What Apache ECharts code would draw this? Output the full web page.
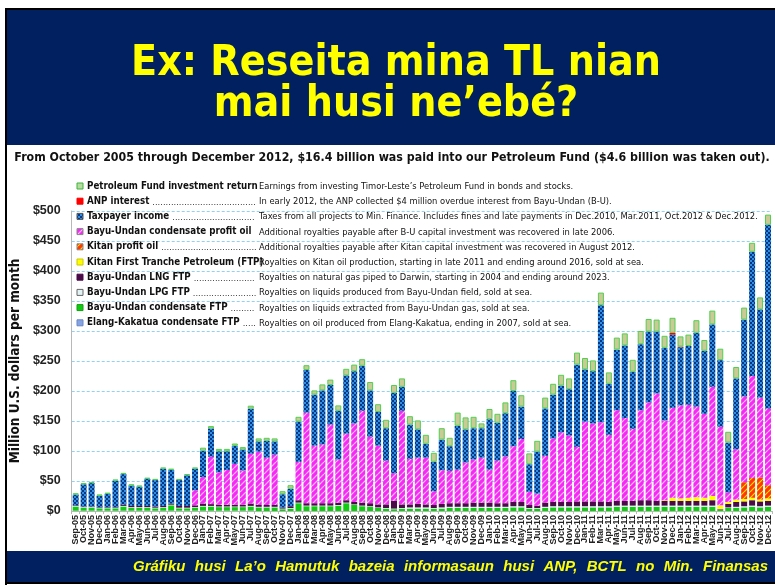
<!DOCTYPE html>
<html>
<head>
<meta charset="utf-8">
<script src="https://cdn.jsdelivr.net/npm/echarts@6/dist/echarts.min.js"></script>
<style>
  html, body { margin: 0; padding: 0; background: #fff; }
  #main { width: 775px; height: 588px; }
</style>
</head>
<body>
<div id="main"></div>
<script>
// months on the x axis
var months = [
  'Sep-05','Oct-05','Nov-05','Dec-05',
  'Jan-06','Feb-06','Mar-06','Apr-06','May-06','Jun-06','Jul-06','Aug-06','Sep-06','Oct-06','Nov-06','Dec-06',
  'Jan-07','Feb-07','Mar-07','Apr-07','May-07','Jun-07','Jul-07','Aug-07','Sep-07','Oct-07','Nov-07','Dec-07',
  'Jan-08','Feb-08','Mar-08','Apr-08','May-08','Jun-08','Jul-08','Aug-08','Sep-08','Oct-08','Nov-08','Dec-08',
  'Jan-09','Feb-09','Mar-09','Apr-09','May-09','Jun-09','Jul-09','Aug-09','Sep-09','Oct-09','Nov-09','Dec-09',
  'Jan-10','Feb-10','Mar-10','Apr-10','May-10','Jun-10','Jul-10','Aug-10','Sep-10','Oct-10','Nov-10','Dec-10',
  'Jan-11','Feb-11','Mar-11','Apr-11','May-11','Jun-11','Jul-11','Aug-11','Sep-11','Oct-11','Nov-11','Dec-11',
  'Jan-12','Feb-12','Mar-12','Apr-12','May-12','Jun-12','Jul-12','Aug-12','Sep-12','Oct-12','Nov-12','Dec-12'
];

// million US$ per month, stacked bottom -> top
var elangFtp = [
  0.5,0.5,0.5,0.5,
  0.5,0.5,0.5,0.5,0.5,0.5,0.5,0.5,0.5,0.5,0.5,0.5,
  0.5,0.5,0.5,0.5,0.5,0.5,0.5,0,0,0,0,0,
  0,0,0,0,0,0,0,0,0,0,0,0,
  0,0,0,0,0,0,0,0,0,0,0,0,
  0,0,0,0,0,0,0,0,0,0,0,0,
  0,0,0,0,0,0,0,0,0,0,0,0,
  0,0,0,0,0,0,0,0,0,0,0,0
];
var condFtp = [
  7,5,5,4,
  4,4,7,5,5,5,4,5,9,4,4,5,
  7,7,6,6,6,6,7,6,6,6,3,4,
  13,8,8,8,8,9,13,10,8,7,5,4,
  3,4,4,4,4,4,4,5,5,5,5,5,
  5,5,5,6,6,4,4,5,6,6,6,6,
  6,6,6,6,7,7,7,7,7,7,7,7,
  7,7,7,7,7,2,5,5,6,7,6,7
];
var lpgFtp = [
  1,1,1,1,
  1,1,1,1,1,1,1,1,1,1,1,1,
  1,1,1,1,1,1,1,1,1,1,1,1,
  1,1,1,1,1,1,1,1,1,1,1,1,
  1,1,2,2,2,1,2,2,2,2,2,2,
  2,2,2,2,2,1,1,2,2,2,2,2,
  2,2,2,2,2,2,2,2,2,2,2,2,
  2,2,2,2,2,0.5,1,2,2,2,2,2
];
var lngFtp = [
  1,1,1,1,
  1,1,2,2,2,2,2,2,2,3,3,3,
  4,3,3,3,3,3,4,3,3,3,2,3,
  4,4,4,4,4,4,4,4,5,5,5,6,
  13,6,5,6,5,5,6,6,6,6,7,7,
  7,6,6,7,7,5,4,7,7,7,7,8,
  8,8,8,7,8,8,8,9,9,8,8,8,
  8,8,8,8,9,1,6,8,8,9,8,8
];
var kitanFtp = [
  0,0,0,0,
  0,0,0,0,0,0,0,0,0,0,0,0,
  0,0,0,0,0,0,0,0,0,0,0,0,
  0,0,0,0,0,0,0,0,0,0,0,0,
  0,0,0,0,0,0,0,0,0,0,0,0,
  0,0,0,0,0,0,0,0,0,0,0,0,
  0,0,0,0,0,0,0,0,0,0,1,5,
  4,5,6,5,7,6,3,4,4,4,3,4
];
var kitanProfit = [
  0,0,0,0,
  0,0,0,0,0,0,0,0,0,0,0,0,
  0,0,0,0,0,0,0,0,0,0,0,0,
  0,0,0,0,0,0,0,0,0,0,0,0,
  0,0,0,0,0,0,0,0,0,0,0,0,
  0,0,0,0,0,0,0,0,0,0,0,0,
  0,0,0,0,0,0,0,0,0,0,0,0,
  0,0,0,0,0,0,0,0,28,33,37,22
];
var buProfit = [
  0,0,0,0,
  0,0,0,0,0,0,0,0,0,0,0,25,
  44,79,54,58,68,57,83,89,79,84,0,0,
  64,151,96,98,131,72,111,131,153,111,98,73,
  46,156,76,77,78,23,56,54,56,68,72,75,
  55,71,78,93,105,22,20,78,106,116,111,91,
  133,130,132,112,151,138,120,150,163,179,133,150,
  155,155,151,140,182,131,16,84,143,170,133,128
];
var taxpayer = [
  18,37,39,19,
  22,44,51,34,32,45,44,62,56,43,51,36,
  44,47,35,31,30,35,75,17,28,22,22,29,
  67,71,85,90,66,81,97,87,75,77,56,54,
  134,40,57,47,23,49,51,41,73,55,52,49,
  84,63,72,92,54,46,70,79,73,78,77,137,
  87,87,195,85,101,121,95,110,118,103,121,122,
  97,98,123,105,104,111,83,118,128,207,147,306
];
var anpInterest = [
  0,0,0,0,
  0,0,0,0,0,0,0,0,0,0,0,0,
  0,0,0,0,0,0,0,0,0,0,0,0,
  0,0,0,0,0,0,0,0,0,0,0,0,
  0,0,0,0,0,0,0,0,0,0,0,0,
  0,0,0,0,0,0,0,0,0,0,0,0,
  0,0,0,0,0,0,0,0,0,0,0,3,
  1,0,0,0,0,0,0,0,0,0,0,0
];
var invReturn = [
  2,2,2,2,
  2,2,2,2,2,2,2,2,2,2,2,2,
  5,4,4,4,4,4,5,5,5,5,5,6,
  8,8,7,10,9,9,11,11,11,14,13,14,
  13,14,14,15,15,15,19,14,22,20,19,8,
  17,15,18,18,19,18,18,18,18,18,18,20,
  19,18,21,19,20,20,20,22,21,20,20,25,
  17,19,21,18,23,19,18,19,20,15,20,17
];

// legend rows: name, description (top -> bottom)
var legendNames = [
  'Petroleum Fund investment return', 'ANP interest', 'Taxpayer income',
  'Bayu-Undan condensate profit oil', 'Kitan profit oil', 'Kitan First Tranche Petroleum (FTP)',
  'Bayu-Undan LNG FTP', 'Bayu-Undan LPG FTP', 'Bayu-Undan condensate FTP', 'Elang-Kakatua condensate FTP'
];
var legendDescs = [
  'Earnings from investing Timor-Leste\u2019s Petroleum Fund in bonds and stocks.',
  'In early 2012, the ANP collected $4 million overdue interest from Bayu-Undan (B-U).',
  'Taxes from all projects to Min. Finance. Includes fines and late payments in Dec.2010, Mar.2011, Oct.2012 & Dec.2012.',
  'Additional royalties payable after B-U capital investment was recovered in late 2006.',
  'Additional royalties payable after Kitan capital investment was recovered in August 2012.',
  'Royalties on Kitan oil production, starting in late 2011 and ending around 2016, sold at sea.',
  'Royalties on natural gas piped to Darwin, starting in 2004 and ending around 2023.',
  'Royalties on liquids produced from Bayu-Undan field, sold at sea.',
  'Royalties on liquids extracted from Bayu-Undan gas, sold at sea.',
  'Royalties on oil produced from Elang-Kakatua, ending in 2007, sold at sea.'
];

var NARROW = '"Liberation Sans Narrow", "DejaVu Sans Condensed", sans-serif';
var measure = document.createElement('canvas').getContext('2d');
function fit(text, font, width) {
  measure.font = font.replace('{s}', '100');
  return 100 * width / measure.measureText(text).width;
}
function textW(text, font) {
  measure.font = font;
  return measure.measureText(text).width;
}

function pattern(bg, fg, kind) {
  var c = document.createElement('canvas');
  var size = kind === 'check' ? 4 : 6;
  c.width = size; c.height = size;
  var g = c.getContext('2d');
  g.fillStyle = bg;
  g.fillRect(0, 0, size, size);
  if (kind === 'check') {
    g.fillStyle = fg;
    g.fillRect(0, 0, 2, 2);
    g.fillRect(2, 2, 2, 2);
  } else {
    g.strokeStyle = fg;
    g.lineWidth = 1.2;
    g.beginPath();
    [-6, 0, 6].forEach(function (o) { g.moveTo(o, 6); g.lineTo(o + 6, 0); });
    g.stroke();
  }
  return { image: c, repeat: 'repeat' };
}

var taxFill = pattern('#2a90e8', '#0c3582', 'check');
var buFill = pattern('#f52af5', '#fbc0fb', 'stripe');
var kitanFill = pattern('#ff3a00', '#ffe000', 'stripe');

var seriesDefs = [
  { name: 'Elang-Kakatua condensate FTP', data: elangFtp, color: '#86a4e4' },
  { name: 'Bayu-Undan condensate FTP', data: condFtp, color: '#10cc10' },
  { name: 'Bayu-Undan LPG FTP', data: lpgFtp, color: '#d8eef2' },
  { name: 'Bayu-Undan LNG FTP', data: lngFtp, color: '#4b0b49' },
  { name: 'Kitan First Tranche Petroleum (FTP)', data: kitanFtp, color: '#ffff00' },
  { name: 'Kitan profit oil', data: kitanProfit, color: kitanFill },
  { name: 'Bayu-Undan condensate profit oil', data: buProfit, color: buFill },
  { name: 'Taxpayer income', data: taxpayer, color: taxFill },
  { name: 'ANP interest', data: anpInterest, color: '#ff0000' },
  { name: 'Petroleum Fund investment return', data: invReturn, color: '#cbc996', border: '#4fd04f' }
];

// legend icons, same order as legendNames
var legendIcons = [
  { fill: '#b7dca0', stroke: '#3cb43c' },
  { fill: '#ff0000', stroke: '#ff0000' },
  { fill: taxFill, stroke: '#555' },
  { fill: buFill, stroke: '#888' },
  { fill: kitanFill, stroke: '#888' },
  { fill: '#ffff00', stroke: '#c8c800' },
  { fill: '#4b0b49', stroke: '#4b0b49' },
  { fill: '#e2f3f5', stroke: '#666' },
  { fill: '#10cc10', stroke: '#169c16' },
  { fill: '#86a4e4', stroke: '#6a86c4' }
];

var graphics = [];
//region slide frame
graphics.push({ type: 'rect', shape: { x: 6, y: 9, width: 769, height: 136 }, style: { fill: '#002060' }, z: 0 });
graphics.push({ type: 'rect', shape: { x: 6, y: 551, width: 769, height: 31 }, style: { fill: '#002060' }, z: 0 });
graphics.push({ type: 'rect', shape: { x: 5, y: 8, width: 2, height: 577 }, style: { fill: '#000' }, z: 1 });
graphics.push({ type: 'rect', shape: { x: 5, y: 8, width: 770, height: 2 }, style: { fill: '#000' }, z: 1 });
graphics.push({ type: 'rect', shape: { x: 5, y: 582, width: 770, height: 2 }, style: { fill: '#000' }, z: 1 });
//endregion

//region titles
var titleFont = 'bold {s}px "DejaVu Sans Condensed", sans-serif';
var titleSize = fit('Ex: Reseita mina TL nian', titleFont, 530);
[['Ex: Reseita mina TL nian', 64], ['mai husi ne\u2019ebé?', 105]].forEach(function (t) {
  graphics.push({
    type: 'text', x: 396, y: t[1], z: 5,
    style: { text: t[0], font: titleFont.replace('{s}', titleSize.toFixed(2)), fill: '#ffff00',
      align: 'center', verticalAlign: 'middle', textAlign: 'center', textVerticalAlign: 'middle' }
  });
});

var subText = 'From October 2005 through December 2012, $16.4 billion was paid into our Petroleum Fund ($4.6 billion was taken out).';
var subFont = 'bold {s}px ' + NARROW;
graphics.push({
  type: 'text', x: 392, y: 158, z: 5,
  style: { text: subText, font: subFont.replace('{s}', fit(subText, subFont, 756).toFixed(2)), fill: '#111',
    align: 'center', verticalAlign: 'middle', textAlign: 'center', textVerticalAlign: 'middle' }
});

// footer credit, words spread across the band like the justified original
var footText = 'Gráfiku husi La\u2019o Hamutuk bazeia informasaun husi ANP, BCTL no Min. Finansas';
var footF = 'italic bold 15px "Liberation Sans", sans-serif';
var footWords = footText.split(' ');
var footWidths = footWords.map(function (w) { return textW(w, footF); });
var footGap = (635 - footWidths.reduce(function (a, b) { return a + b; }, 0)) / (footWords.length - 1);
var fx = 133;
footWords.forEach(function (w, i) {
  graphics.push({
    type: 'text', x: fx, y: 567, z: 5,
    style: { text: w, font: footF, fill: '#ffff00',
      align: 'left', verticalAlign: 'middle', textAlign: 'left', textVerticalAlign: 'middle' }
  });
  fx += footWidths[i] + footGap;
});
//endregion

//region legend
var nameFont = 'bold {s}px ' + NARROW;
var nameSize = fit(legendNames[0], nameFont, 171);
var nameF = nameFont.replace('{s}', nameSize.toFixed(2));
var descSize = fit(legendDescs[2], '{s}px ' + NARROW, 499);
var descF = descSize.toFixed(2) + 'px ' + NARROW;
var dotW = textW('.', descF);
legendNames.forEach(function (nm, i) {
  var y = 186 + i * 15.2;
  graphics.push({
    type: 'rect', z: 6, shape: { x: 77, y: y - 3, width: 6, height: 6 },
    style: { fill: legendIcons[i].fill, stroke: legendIcons[i].stroke, lineWidth: 1 }
  });
  var nw = textW(nm, nameF);
  graphics.push({
    type: 'text', x: 87, y: y, z: 6,
    style: { text: nm, font: nameF, fill: '#111', align: 'left', verticalAlign: 'middle',
      textAlign: 'left', textVerticalAlign: 'middle' }
  });
  var gap = 257 - (87 + nw + 3);
  if (gap > dotW * 3) {
    graphics.push({
      type: 'text', x: 87 + nw + 3, y: y + 1, z: 6,
      style: { text: new Array(Math.floor(gap / dotW) + 1).join('.'), font: descF, fill: '#333',
        align: 'left', verticalAlign: 'middle', textAlign: 'left', textVerticalAlign: 'middle' }
    });
  }
  graphics.push({
    type: 'text', x: 259, y: y + 0.5, z: 6,
    style: { text: legendDescs[i], font: descF, fill: '#111', align: 'left', verticalAlign: 'middle',
      textAlign: 'left', textVerticalAlign: 'middle' }
  });
});
//endregion

var chart = echarts.init(document.getElementById('main'));
var yName = 'Million U.S. dollars per month';
var yNameSize = fit(yName, 'bold {s}px ' + NARROW, 205);

var option = {
  animation: false,
  backgroundColor: '#ffffff',
  textStyle: { fontFamily: 'Liberation Sans, sans-serif' },
  // 88 bands of exactly 8px so the 6px bars sit on whole pixels
  grid: { left: 68, right: 3, top: 211, bottom: 77 },
  xAxis: {
    type: 'category',
    data: months,
    axisLine: { lineStyle: { color: '#b8b8b8' } },
    axisTick: { show: true, length: 3, lineStyle: { color: '#b8b8b8' } },
    axisLabel: {
      interval: 0, rotate: 90, margin: 4,
      fontSize: 9, fontWeight: 'bold', color: '#222',
      fontFamily: 'Liberation Sans, sans-serif'
    }
  },
  yAxis: {
    type: 'value',
    min: 0, max: 500, interval: 50,
    name: yName,
    nameLocation: 'middle',
    nameRotate: 90,
    nameGap: 42,
    nameTextStyle: { fontSize: yNameSize, fontWeight: 'bold', color: '#111', fontFamily: NARROW },
    axisLine: { show: true, lineStyle: { color: '#b8b8b8' } },
    axisTick: { show: false },
    axisLabel: {
      formatter: '${value}', margin: 11,
      fontSize: 12.5, fontWeight: 'bold', color: '#222',
      fontFamily: 'Liberation Sans, sans-serif'
    },
    splitLine: { lineStyle: { color: '#8fd3f2', type: [3, 2], width: 1 } }
  },
  graphic: { elements: graphics },
  series: seriesDefs.map(function (s) {
    return {
      name: s.name,
      type: 'bar',
      stack: 'revenue',
      barWidth: 6,
      data: s.data,
      z: 3,
      itemStyle: { color: s.color, borderColor: s.border || '#7a7a7a', borderWidth: s.border ? 1 : 0 }
    };
  })
};
chart.setOption(option);
</script>
</body>
</html>
